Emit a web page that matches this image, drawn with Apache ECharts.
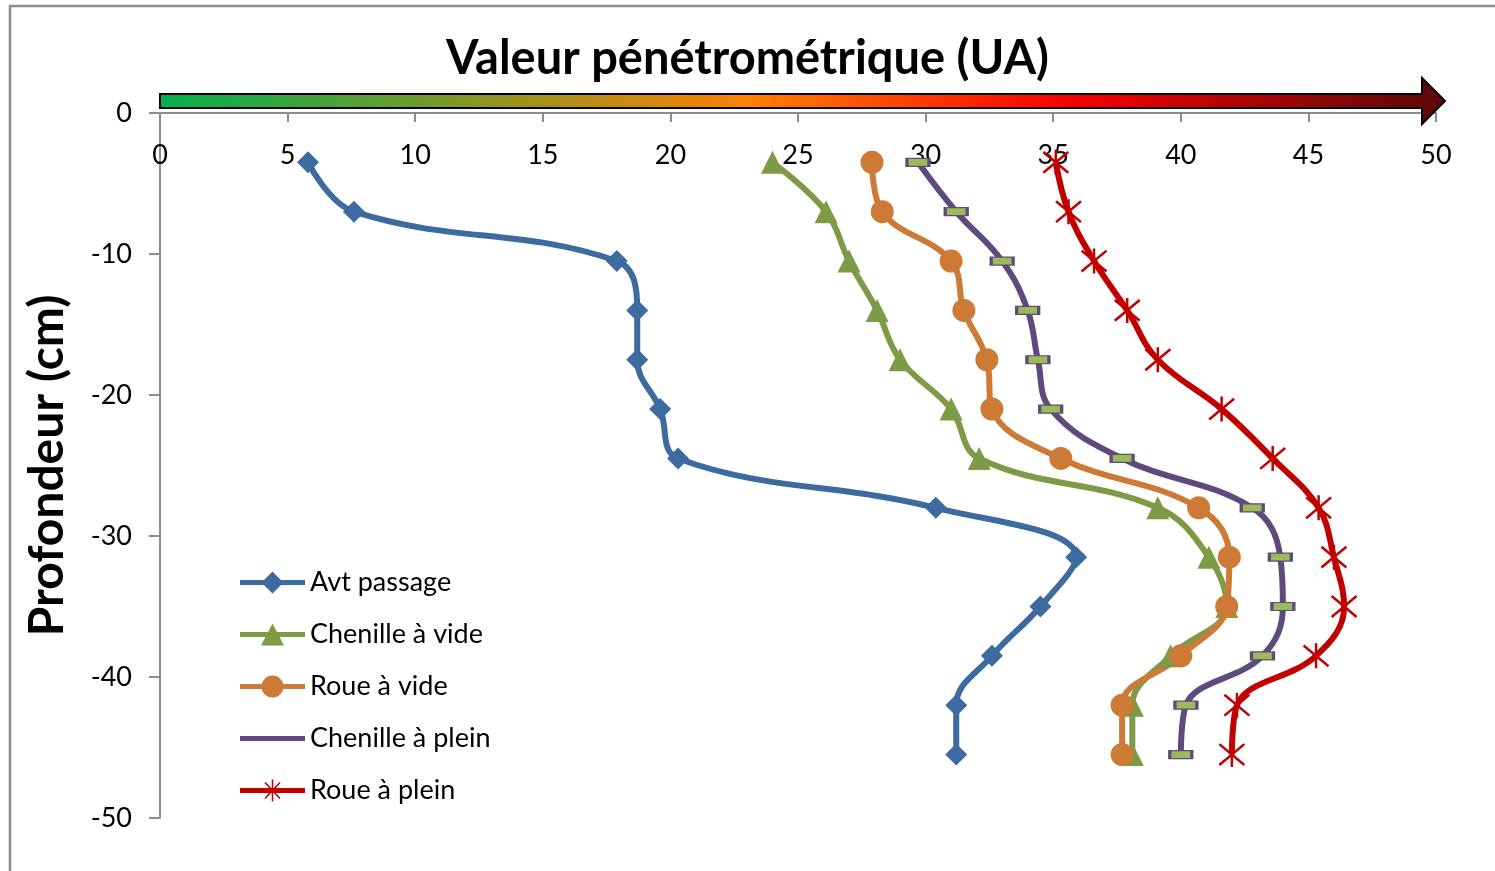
<!DOCTYPE html>
<html>
<head>
<meta charset="utf-8">
<script src="https://cdn.jsdelivr.net/npm/echarts@6/dist/echarts.min.js"></script>
<style>
  html, body { margin: 0; padding: 0; background: #ffffff; }
  #chart { width: 1495px; height: 871px; }
</style>
</head>
<body>
<div id="chart"></div>
<script>
// Profondeur de mesure (cm), négative vers le bas
const depths = [-3.5, -7, -10.5, -14, -17.5, -21, -24.5, -28, -31.5, -35, -38.5, -42, -45.5];

// Valeurs pénétrométriques (UA) par modalité
const avtPassage     = [5.8, 7.6, 17.9, 18.7, 18.7, 19.6, 20.3, 30.4, 35.9, 34.5, 32.6, 31.2, 31.2];
const chenilleVide   = [24.0, 26.1, 27.0, 28.1, 29.0, 31.0, 32.1, 39.1, 41.1, 41.8, 39.6, 38.1, 38.1];
const roueVide       = [27.9, 28.3, 31.0, 31.5, 32.4, 32.6, 35.3, 40.7, 41.9, 41.8, 40.0, 37.7, 37.7];
const chenillePlein  = [29.7, 31.2, 33.0, 34.0, 34.4, 34.9, 37.7, 42.8, 43.9, 44.0, 43.2, 40.2, 40.0];
const rouePlein      = [35.1, 35.6, 36.6, 37.9, 39.1, 41.6, 43.6, 45.4, 46.0, 46.4, 45.3, 42.2, 42.0];

const seriesNames = ['Avt passage', 'Chenille à vide', 'Roue à vide', 'Chenille à plein', 'Roue à plein'];

const FONT = 'Lato, "Open Sans", sans-serif';

const COLORS = {
  blue: '#3d6a9f',
  green: '#7d9b47',
  orange: '#cc7a36',
  purple: '#5e4a7c',
  red: '#c00000',
  dash: '#9bbb59'
};

function pairs(values) {
  return values.map((v, i) => [v, depths[i]]);
}

// Icônes de légende : trait épais + marqueur, dessinés dans un cadre 65 x 22.
// Deux minuscules triangles aux coins fixent la boîte englobante du tracé.
const FRAME = 'M0,0L0.01,0L0,0.01Z M65,22L64.99,22L65,21.99Z ';
const BAR = 'M0,8.5L65,8.5L65,13.5L0,13.5Z ';
const ICONS = {
  diamond: 'path://' + FRAME + BAR + 'M32.5,0L43.5,11L32.5,22L21.5,11Z',
  triangle: 'path://' + FRAME + BAR + 'M32.5,0L44,22L21,22Z',
  circle: 'path://' + FRAME + BAR + 'M21.5,11A11,11 0 1,1 43.5,11A11,11 0 1,1 21.5,11Z',
  plain: 'path://' + FRAME + BAR,
  star: 'path://' + FRAME + BAR +
    'M31.75,0L33.25,0L33.25,22L31.75,22Z ' +
    'M25.58,2.45L40.58,18.45L39.42,19.55L24.42,3.55Z ' +
    'M40.58,3.55L25.58,19.55L24.42,18.45L39.42,2.45Z'
};

const chart = echarts.init(document.getElementById('chart'), null, { renderer: 'canvas' });

// Flèche dégradée vert -> orange -> rouge -> bordeaux au-dessus de l'axe des valeurs
const arrowShape = {
  points: [[160, 94], [1422, 94], [1422, 78], [1445, 101], [1422, 124], [1422, 108], [160, 108]]
};

const lineW = 6;

const option = {
  backgroundColor: '#ffffff',
  animation: false,
  title: {
    text: 'Valeur pénétrométrique (UA)',
    left: 'center',
    top: 30,
    textStyle: { fontFamily: FONT, fontSize: 47, fontWeight: 'bold', color: '#000000' }
  },
  graphic: [
    {
      type: 'rect',
      shape: { x: 10, y: 6, width: 1600, height: 1000 },
      style: { fill: 'none', stroke: '#8c8c8c', lineWidth: 2.5 },
      silent: true, z: -10
    },
    {
      type: 'polygon',
      shape: arrowShape,
      style: {
        fill: new echarts.graphic.LinearGradient(0, 0, 1, 0, [
          { offset: 0, color: '#00b050' },
          { offset: 0.46, color: '#ff8000' },
          { offset: 0.70, color: '#ff0000' },
          { offset: 1, color: '#5a0808' }
        ]),
        stroke: '#000000',
        lineWidth: 2
      },
      silent: true, z: 10
    }
  ],
  legend: {
    orient: 'vertical',
    left: 235,
    top: 564,
    itemWidth: 65,
    itemHeight: 22,
    itemGap: 25,
    itemStyle: { borderWidth: 0 },
    textStyle: { fontFamily: FONT, fontSize: 27, color: '#000000' },
    data: [
      { name: 'Avt passage', icon: ICONS.diamond },
      { name: 'Chenille à vide', icon: ICONS.triangle },
      { name: 'Roue à vide', icon: ICONS.circle },
      { name: 'Chenille à plein', icon: ICONS.plain, itemStyle: { color: COLORS.purple, borderWidth: 0 } },
      { name: 'Roue à plein', icon: ICONS.star }
    ]
  },
  grid: { left: 160, top: 113, right: 59, bottom: 53, containLabel: false },
  xAxis: {
    type: 'value',
    position: 'top',
    min: 0, max: 50, interval: 5,
    axisLine: { show: true, lineStyle: { color: '#8c8c8c', width: 2 } },
    axisTick: { show: true, inside: true, length: 9, lineStyle: { color: '#8c8c8c', width: 2 } },
    axisLabel: { inside: true, margin: 29, fontFamily: FONT, fontSize: 27, color: '#000000' },
    splitLine: { show: false }
  },
  yAxis: {
    type: 'value',
    min: -50, max: 0, interval: 10,
    name: 'Profondeur (cm)',
    nameLocation: 'middle',
    nameGap: 88,
    nameRotate: 90,
    nameTextStyle: { fontFamily: FONT, fontSize: 48, fontWeight: 'bold', color: '#000000' },
    axisLine: { show: true, lineStyle: { color: '#8c8c8c', width: 2 } },
    axisTick: { show: true, length: 11, lineStyle: { color: '#8c8c8c', width: 2 } },
    axisLabel: { margin: 28, fontFamily: FONT, fontSize: 27, color: '#000000' },
    splitLine: { show: false }
  },
  series: [
    {
      name: seriesNames[0], type: 'line', smooth: 0.4,
      data: pairs(avtPassage),
      symbol: 'diamond', symbolSize: 22,
      lineStyle: { color: COLORS.blue, width: lineW },
      itemStyle: { color: COLORS.blue }
    },
    {
      name: seriesNames[1], type: 'line', smooth: 0.4,
      data: pairs(chenilleVide),
      symbol: 'triangle', symbolSize: 23,
      lineStyle: { color: COLORS.green, width: lineW },
      itemStyle: { color: COLORS.green }
    },
    {
      name: seriesNames[2], type: 'line', smooth: 0.4,
      data: pairs(roueVide),
      symbol: 'circle', symbolSize: 23,
      lineStyle: { color: COLORS.orange, width: lineW },
      itemStyle: { color: COLORS.orange }
    },
    {
      name: seriesNames[3], type: 'line', smooth: 0.4,
      data: pairs(chenillePlein),
      symbol: 'rect', symbolSize: [22, 8],
      lineStyle: { color: COLORS.purple, width: lineW },
      itemStyle: { color: COLORS.dash, borderColor: COLORS.purple, borderWidth: 2 }
    },
    {
      name: seriesNames[4], type: 'line', smooth: 0.4,
      data: pairs(rouePlein),
      symbol: 'path://M2,2L22,22M22,2L2,22M12,0L12,24', symbolSize: 25,
      lineStyle: { color: COLORS.red, width: lineW },
      itemStyle: { color: COLORS.red, borderColor: COLORS.red, borderWidth: 2.5 }
    }
  ]
};

chart.setOption(option);
</script>
</body>
</html>
